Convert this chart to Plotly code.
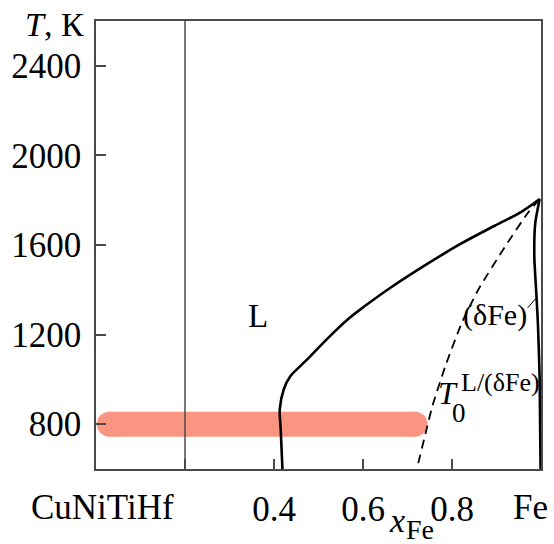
import plotly.graph_objects as go

# ---- data ----
liquidus_x = [0.419, 0.415, 0.413, 0.422, 0.437, 0.459, 0.478, 0.519, 0.570,
              0.608, 0.660, 0.748, 0.822, 0.896, 0.956, 0.997]
liquidus_T = [600, 778, 867, 956, 1015, 1059, 1096, 1180, 1275,
              1333, 1407, 1520, 1608, 1686, 1748, 1805]

solidus_x = [0.997, 0.987, 0.985, 0.989, 0.993, 0.997, 0.999]
solidus_T = [1805, 1696, 1548, 1400, 1252, 1000, 600]

t0_x = [0.997, 0.970, 0.919, 0.859, 0.822, 0.785, 0.756, 0.741, 0.722]
t0_T = [1805, 1742, 1592, 1400, 1252, 1059, 881, 763, 608]

band_x = [0.030, 0.717]
band_T = [800, 800]

leader_x = [0.970, 0.989]
leader_T = [1319, 1363]

divider_x = [0.2, 0.2]
divider_T = [600, 2600]

x_tickvals = [0.2, 0.4, 0.6, 0.8]
x_ticktext = ["", "0.4", "0.6", "0.8"]
y_tickvals = [800, 1200, 1600, 2000, 2400]
y_ticktext = ["800", "1200", "1600", "2000", "2400"]
components = ["CuNiTiHf", "Fe"]

FONT = "Liberation Serif, Times New Roman, DejaVu Serif, serif"
AX = "#4a4a4a"

fig = go.Figure()

# red 800 K band with rounded ends
fig.add_trace(go.Scatter(x=band_x, y=band_T, mode="lines+markers",
                         line=dict(color="#FA9581", width=25),
                         marker=dict(color="#FA9581", size=25, line=dict(width=0)),
                         hoverinfo="skip", showlegend=False))
# divider line at x=0.2
fig.add_trace(go.Scatter(x=divider_x, y=divider_T, mode="lines",
                         line=dict(color=AX, width=1.5), showlegend=False))
# liquidus
fig.add_trace(go.Scatter(x=liquidus_x, y=liquidus_T, mode="lines",
                         line=dict(color="black", width=2.6, shape="spline", smoothing=1.0),
                         showlegend=False))
# solidus
fig.add_trace(go.Scatter(x=solidus_x, y=solidus_T, mode="lines",
                         line=dict(color="black", width=2.6, shape="spline", smoothing=0.6),
                         showlegend=False))
# T0 line
fig.add_trace(go.Scatter(x=t0_x, y=t0_T, mode="lines",
                         line=dict(color="black", width=1.8, dash="9px,6px",
                                   shape="spline", smoothing=0.6),
                         showlegend=False))
# leader
fig.add_trace(go.Scatter(x=leader_x, y=leader_T, mode="lines",
                         line=dict(color="black", width=1), showlegend=False))

fig.update_xaxes(range=[0, 1], tickvals=x_tickvals, ticktext=x_ticktext,
                 ticks="inside", ticklen=10, tickwidth=1.5, tickcolor=AX,
                 showline=True, linecolor=AX, linewidth=1.5, mirror=True,
                 showgrid=False, zeroline=False,
                 tickfont=dict(family=FONT, size=35, color="black"),
                 ticklabelstandoff=8)
fig.update_yaxes(range=[600, 2600], tickvals=y_tickvals, ticktext=y_ticktext,
                 ticks="inside", ticklen=10, tickwidth=1.5, tickcolor=AX,
                 showline=True, linecolor=AX, linewidth=1.5, mirror=True,
                 showgrid=False, zeroline=False,
                 tickfont=dict(family=FONT, size=35, color="black"),
                 ticklabelstandoff=6)

ann = []
def A(text, x, y, size, xref="x", yref="y"):
    ann.append(dict(text=text, x=x, y=y, xref=xref, yref=yref, showarrow=False,
                    xanchor="center", yanchor="middle",
                    font=dict(family=FONT, size=size, color="black")))

A("L", 0.363, 1284, 33)
A("(δFe)", 0.896, 1289, 30)
A("<i>T</i>", 0.790, 938, 32)
A("0", 0.815, 849, 27)
A("L/(δFe)", 0.908, 984, 26)
A("<i>T</i>, К", -0.0924, 0.9917, 34, "paper", "paper")
A(components[0], 0.015, -0.085, 35, "paper", "paper")
A(components[1], 0.9756, -0.085, 35, "paper", "paper")
A("<i>x</i>", 0.676, -0.114, 34, "paper", "paper")
A("Fe", 0.728, -0.135, 28, "paper", "paper")

fig.update_layout(width=554, height=544, margin=dict(l=93, r=11, t=21, b=75),
                  paper_bgcolor="white", plot_bgcolor="white",
                  annotations=ann, showlegend=False)

fig.write_html("out.html")
